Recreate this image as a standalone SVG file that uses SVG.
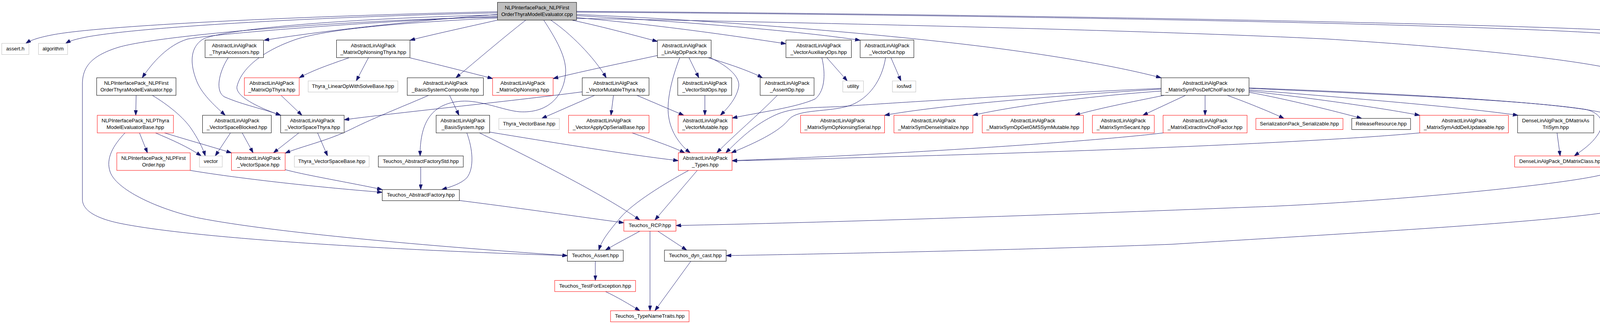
<svg xmlns="http://www.w3.org/2000/svg" width="4717" height="829" viewBox="0 0 4717 829">
<defs>
<style>
.n rect{stroke-width:1;fill:#ffffff}
.b rect{stroke:#000000}
.r rect{stroke:#ff0000}
.g rect{stroke:#bfbfbf}
.t rect{stroke:#000000;fill:#bfbfbf}
text{font-family:"Liberation Sans",Arial,Helvetica,sans-serif;font-size:13.2px;fill:#000000;text-anchor:middle}
#edges path{fill:none;stroke:#191970;stroke-width:1;marker-end:url(#ah)}
</style>
<marker id="ah" markerWidth="13" markerHeight="9" refX="13" refY="4.5" orient="auto" markerUnits="userSpaceOnUse">
<path d="M0,0 L13,4.5 L0,9 z" fill="#191970" stroke="#191970" stroke-width="1"/>
</marker>
</defs>
<rect x="0" y="0" width="4717" height="829" fill="#ffffff"/>
<g id="edges">
<path d="M1273.5,30 C 800,40 250,65 130,90 C 100,96 80,102 66,111"/>
<path d="M1273.5,33 C 800,43 350,70 220,95 C 195,100 180,104 168,111"/>
<path d="M1273.5,44 C 900,50 400,90 300,122 C 235,143 211,170 211,215 L211,510 C211,540 250,560 310,572 C 500,610 1000,640 1452.5,654"/>
<path d="M1273.5,42 C 950,55 560,85 480,100 C 430,115 390,160 364,199"/>
<path d="M1273.5,38 C 800,50 560,80 520,100 C 480,125 490,175 505,211 C 520,245 555,275 576.5,295"/>
<path d="M1273.5,37 C 1100,50 850,75 676,103"/>
<path d="M1273.5,46 C 1050,57 850,72 760,100 C 680,127 620,170 607,220 C 600,245 660,275 718.5,295"/>
<path d="M1273.5,51.5 C 1200,68 1100,90 1049.5,103"/>
<path d="M1346,51.5 C 1290,95 1220,155 1167,199"/>
<path d="M1392,51.5 C 1420,95 1455,150 1447,195 C 1440,250 1400,290 1330,286 C 1290,283 1230,255 1180,259 C 1100,265 1075,320 1075.5,399"/>
<path d="M1410,51.5 C 1460,85 1520,145 1552,199"/>
<path d="M1464,51.5 C 1550,70 1630,92 1683,106"/>
<path d="M1476,45 C 1700,65 1900,95 2012,112"/>
<path d="M1476,40 C 1750,55 2050,80 2202,103"/>
<path d="M1476,37 C 1900,55 2350,95 2600,130 C 2780,155 2900,180 2972.5,199"/>
<path d="M1476,31 C 2500,38 3700,60 4100,85 C 4200,92 4260,100 4296,111"/>
<path d="M1476,29 C 2500,36 3700,58 4100,76 C 4350,88 4480,95 4541,111"/>
<path d="M1476,47 C 2200,60 3000,80 3400,100 C 3800,125 4100,160 4180,190 C 4210,205 4218,215 4218,230 L4218,500 C 4218,515 4200,525 4150,537 C 4000,568 3400,600 3000,625 C 2600,640 2100,650 1859,654"/>
<path d="M348.5,244 L347.5,295"/>
<path d="M390,244 C 430,268 470,300 490,330 C 505,352 520,380 525.5,399"/>
<path d="M357,340 L377.5,391"/>
<path d="M398,340 C 440,358 480,375 515,399"/>
<path d="M421,340 C 480,358 540,375 592.5,391"/>
<path d="M320,340 C 290,372 270,405 282,440 C 300,490 420,540 510,558 C 700,595 1100,630 1452.5,654"/>
<path d="M590,340 L551,399"/>
<path d="M620,340 L648,391"/>
<path d="M584,148 C 560,185 550,235 575,248 C 620,268 680,280 718.5,295"/>
<path d="M719.5,244 L773,295"/>
<path d="M893,148 C 850,163 800,180 766,199"/>
<path d="M943,148 L912,207"/>
<path d="M1049.5,148 C 1120,165 1200,185 1261,201"/>
<path d="M813,340 L838.5,399"/>
<path d="M765,340 L700,391"/>
<path d="M1490.5,235 C 1300,260 1000,290 881,306.5"/>
<path d="M1097,244 C 1050,265 960,300 900,330 C 840,360 770,375 730,392"/>
<path d="M1151,244 L1175,295"/>
<path d="M1195,340 C 1210,380 1215,430 1195,455 C 1180,470 1155,478 1131,485"/>
<path d="M1227.5,340 C 1350,400 1550,500 1638,563"/>
<path d="M1253.5,338 C 1400,362 1600,395 1736.5,411"/>
<path d="M1077,427.5 L1077,485"/>
<path d="M1176,513 C 1350,535 1500,557 1597,570"/>
<path d="M730,434 C 780,448 900,468 978.5,485"/>
<path d="M487,436 C 600,455 800,478 978.5,492"/>
<path d="M1524,668.5 L1524,717.5"/>
<path d="M1550,746 C 1580,760 1610,778 1638,795"/>
<path d="M1763,436 C 1700,470 1620,520 1590,555 C 1560,590 1540,615 1533,640"/>
<path d="M1785,436 L1676.5,563"/>
<path d="M1638,591.5 C 1610,607 1580,622 1550,640"/>
<path d="M1684,591.5 L1758,640"/>
<path d="M1664,591.5 L1664,795"/>
<path d="M1768.5,668.5 L1676.5,795"/>
<path d="M1764,148 L1789,199"/>
<path d="M1814,148 C 1870,165 1920,182 1952,199"/>
<path d="M1819,148 C 1870,172 1895,200 1891,222 C 1886,250 1865,275 1844,295"/>
<path d="M1740,148 C 1720,200 1705,260 1712,300 C 1718,340 1742,372 1767,391"/>
<path d="M1683,142 C 1600,160 1500,180 1416,201"/>
<path d="M1522,244 L1387,303"/>
<path d="M1570.5,244 L1564,295"/>
<path d="M1630.5,244 L1750.5,295"/>
<path d="M1618,340 C 1670,358 1720,375 1753,391"/>
<path d="M1804.5,244 L1804.5,295"/>
<path d="M1990,244 C 1940,295 1880,345 1835,391"/>
<path d="M2104,148 C 2112,180 2115,230 2087,253 C 2040,275 1940,288 1874.5,302"/>
<path d="M2117,148 L2169,207"/>
<path d="M2281,148 L2306.5,207"/>
<path d="M2267,148 C 2258,205 2225,252 2176,270 C 2120,288 2045,278 2020,305 C 2000,330 1960,355 1872,391"/>
<path d="M2972.5,226 C 2700,238 2300,262 2161,272 C 2100,276 2040,272 1990,292 C 1930,318 1890,360 1858,391"/>
<path d="M2972.5,228 C 2700,245 2400,270 2264.5,295"/>
<path d="M2972.5,233 C 2800,245 2600,270 2490.5,295"/>
<path d="M2980,244 C 2900,260 2800,280 2752,295"/>
<path d="M3035,244 L2925.5,295"/>
<path d="M3085,244 L3085,295"/>
<path d="M2978,340 C 2800,362 2300,395 1874,411"/>
<path d="M3634.5,340 C 3400,362 2800,390 1874,411.5"/>
<path d="M3142,244 C 3200,265 3260,290 3287,303"/>
<path d="M3197.5,236 C 3300,255 3420,285 3486,303"/>
<path d="M3197.5,233 C 3350,250 3530,275 3634.5,295"/>
<path d="M3197.5,230 C 3450,250 3750,275 3886,295"/>
<path d="M3197.5,226 C 3500,240 3900,255 4060,280 C 4100,290 4110,315 4090,345 C 4075,368 4050,385 4030,399"/>
<path d="M3197.5,225 C 3600,240 4000,262 4110,290 C 4150,310 4160,345 4155,370 C 4150,410 4140,435 4110,445 C 4000,475 3500,520 3200,530 C 2700,550 2100,570 1730.5,577"/>
<path d="M3986,340 L3994,399"/>
</g>
<g id="n_cpp" class="n t"><rect x="1273.5" y="6" width="202.5" height="45.5"/><text x="1374.75" y="24">NLPInterfacePack_NLPFirst</text><text x="1374.75" y="41">OrderThyraModelEvaluator.cpp</text></g>
<g id="n_assert" class="n g"><rect x="4.5" y="111" width="69.5" height="28.5"/><text x="39.25" y="129">assert.h</text></g>
<g id="n_algorithm" class="n g"><rect x="98.5" y="111" width="74.5" height="28.5"/><text x="135.75" y="129">algorithm</text></g>
<g id="n_thyraacc" class="n b"><rect x="525" y="102.5" width="149.5" height="45"/><text x="599.75" y="120.5">AbstractLinAlgPack</text><text x="599.75" y="137.5">_ThyraAccessors.hpp</text></g>
<g id="n_mopnsthyra" class="n b"><rect x="861.5" y="102.5" width="188" height="45"/><text x="955.5" y="120.5">AbstractLinAlgPack</text><text x="955.5" y="137.5">_MatrixOpNonsingThyra.hpp</text></g>
<g id="n_linalgop" class="n b"><rect x="1683" y="102.5" width="137.5" height="45"/><text x="1751.75" y="120.5">AbstractLinAlgPack</text><text x="1751.75" y="137.5">_LinAlgOpPack.hpp</text></g>
<g id="n_vecaux" class="n b"><rect x="2012" y="102.5" width="167.5" height="45"/><text x="2095.75" y="120.5">AbstractLinAlgPack</text><text x="2095.75" y="137.5">_VectorAuxiliaryOps.hpp</text></g>
<g id="n_vecout" class="n b"><rect x="2202" y="102.5" width="137.5" height="45"/><text x="2270.75" y="120.5">AbstractLinAlgPack</text><text x="2270.75" y="137.5">_VectorOut.hpp</text></g>
<g id="n_mehelp" class="n g"><rect x="4255" y="111" width="223" height="28.5"/><text x="4366.5" y="129">Thyra_ModelEvaluatorHelpers.hpp</text></g>
<g id="n_detached" class="n g"><rect x="4501" y="111" width="212" height="28.5"/><text x="4607" y="129">Thyra_DetachedVectorView.hpp</text></g>
<g id="n_nlpfotme" class="n b"><rect x="247.5" y="199" width="203" height="45"/><text x="349" y="217">NLPInterfacePack_NLPFirst</text><text x="349" y="234">OrderThyraModelEvaluator.hpp</text></g>
<g id="n_mopthyra" class="n r"><rect x="625.5" y="199" width="140.5" height="45"/><text x="695.75" y="217">AbstractLinAlgPack</text><text x="695.75" y="234">_MatrixOpThyra.hpp</text></g>
<g id="n_lows" class="n g"><rect x="789" y="207" width="229.5" height="28.5"/><text x="903.75" y="225">Thyra_LinearOpWithSolveBase.hpp</text></g>
<g id="n_bscomp" class="n b"><rect x="1042.5" y="199" width="195" height="45"/><text x="1140" y="217">AbstractLinAlgPack</text><text x="1140" y="234">_BasisSystemComposite.hpp</text></g>
<g id="n_mopns" class="n r"><rect x="1261" y="199" width="155" height="45"/><text x="1338.5" y="217">AbstractLinAlgPack</text><text x="1338.5" y="234">_MatrixOpNonsing.hpp</text></g>
<g id="n_vmthyra" class="n b"><rect x="1490.5" y="199" width="171" height="45"/><text x="1576" y="217">AbstractLinAlgPack</text><text x="1576" y="234">_VectorMutableThyra.hpp</text></g>
<g id="n_vstdops" class="n b"><rect x="1735" y="199" width="138" height="45"/><text x="1804" y="217">AbstractLinAlgPack</text><text x="1804" y="234">_VectorStdOps.hpp</text></g>
<g id="n_assertop" class="n b"><rect x="1946" y="199" width="138" height="45"/><text x="2015" y="217">AbstractLinAlgPack</text><text x="2015" y="234">_AssertOp.hpp</text></g>
<g id="n_utility" class="n g"><rect x="2157.5" y="207" width="53" height="28.5"/><text x="2184" y="225">utility</text></g>
<g id="n_iosfwd" class="n g"><rect x="2284.5" y="207" width="60" height="28.5"/><text x="2314.5" y="225">iosfwd</text></g>
<g id="n_mspdcf" class="n b"><rect x="2972.5" y="199" width="225" height="45"/><text x="3085" y="217">AbstractLinAlgPack</text><text x="3085" y="234">_MatrixSymPosDefCholFactor.hpp</text></g>
<g id="n_nlpthyrameb" class="n r"><rect x="249" y="295" width="195" height="45"/><text x="346.5" y="313">NLPInterfacePack_NLPThyra</text><text x="346.5" y="330">ModelEvaluatorBase.hpp</text></g>
<g id="n_vsblocked" class="n b"><rect x="518.5" y="295" width="176" height="45"/><text x="606.5" y="313">AbstractLinAlgPack</text><text x="606.5" y="330">_VectorSpaceBlocked.hpp</text></g>
<g id="n_vsthyra" class="n b"><rect x="718.5" y="295" width="162.5" height="45"/><text x="799.75" y="313">AbstractLinAlgPack</text><text x="799.75" y="330">_VectorSpaceThyra.hpp</text></g>
<g id="n_bs" class="n b"><rect x="1116.5" y="295" width="137" height="45"/><text x="1185" y="313">AbstractLinAlgPack</text><text x="1185" y="330">_BasisSystem.hpp</text></g>
<g id="n_vecbase" class="n g"><rect x="1277" y="303" width="155" height="28.5"/><text x="1354.5" y="321">Thyra_VectorBase.hpp</text></g>
<g id="n_vaopsb" class="n r"><rect x="1455.5" y="295" width="206" height="45"/><text x="1558.5" y="313">AbstractLinAlgPack</text><text x="1558.5" y="330">_VectorApplyOpSerialBase.hpp</text></g>
<g id="n_vmut" class="n r"><rect x="1736" y="295" width="138.5" height="45"/><text x="1805.25" y="313">AbstractLinAlgPack</text><text x="1805.25" y="330">_VectorMutable.hpp</text></g>
<g id="n_msonss" class="n r"><rect x="2049.5" y="295" width="215" height="45"/><text x="2157" y="313">AbstractLinAlgPack</text><text x="2157" y="330">_MatrixSymOpNonsingSerial.hpp</text></g>
<g id="n_msdi" class="n r"><rect x="2288.5" y="295" width="202" height="45"/><text x="2389.5" y="313">AbstractLinAlgPack</text><text x="2389.5" y="330">_MatrixSymDenseInitialize.hpp</text></g>
<g id="n_msgms" class="n r"><rect x="2514.5" y="295" width="259" height="45"/><text x="2644" y="313">AbstractLinAlgPack</text><text x="2644" y="330">_MatrixSymOpGetGMSSymMutable.hpp</text></g>
<g id="n_mssec" class="n r"><rect x="2796.5" y="295" width="158.5" height="45"/><text x="2875.75" y="313">AbstractLinAlgPack</text><text x="2875.75" y="330">_MatrixSymSecant.hpp</text></g>
<g id="n_meicf" class="n r"><rect x="2977.5" y="295" width="215" height="45"/><text x="3085" y="313">AbstractLinAlgPack</text><text x="3085" y="330">_MatrixExtractInvCholFactor.hpp</text></g>
<g id="n_serial" class="n r"><rect x="3215" y="303" width="223" height="28.5"/><text x="3326.5" y="321">SerializationPack_Serializable.hpp</text></g>
<g id="n_release" class="n b"><rect x="3460.5" y="303" width="150.5" height="28.5"/><text x="3535.75" y="321">ReleaseResource.hpp</text></g>
<g id="n_msadu" class="n r"><rect x="3634.5" y="295" width="227" height="45"/><text x="3748" y="313">AbstractLinAlgPack</text><text x="3748" y="330">_MatrixSymAddDelUpdateable.hpp</text></g>
<g id="n_dmtrisym" class="n b"><rect x="3885" y="295" width="195" height="45"/><text x="3982.5" y="313">DenseLinAlgPack_DMatrixAs</text><text x="3982.5" y="330">TriSym.hpp</text></g>
<g id="n_nlpfo" class="n r"><rect x="299" y="391" width="188" height="45"/><text x="393" y="409">NLPInterfacePack_NLPFirst</text><text x="393" y="426">Order.hpp</text></g>
<g id="n_vector" class="n g"><rect x="510.5" y="399" width="58.5" height="28.5"/><text x="539.75" y="417">vector</text></g>
<g id="n_vs" class="n r"><rect x="592.5" y="391" width="137.5" height="45"/><text x="661.25" y="409">AbstractLinAlgPack</text><text x="661.25" y="426">_VectorSpace.hpp</text></g>
<g id="n_vsbase" class="n g"><rect x="753.5" y="399" width="191.5" height="28.5"/><text x="849.25" y="417">Thyra_VectorSpaceBase.hpp</text></g>
<g id="n_afstd" class="n b"><rect x="968.5" y="399" width="217.5" height="28.5"/><text x="1077.25" y="417">Teuchos_AbstractFactoryStd.hpp</text></g>
<g id="n_types" class="n r"><rect x="1736.5" y="391" width="137.5" height="45"/><text x="1805.25" y="409">AbstractLinAlgPack</text><text x="1805.25" y="426">_Types.hpp</text></g>
<g id="n_dmclass" class="n r"><rect x="3877.5" y="399" width="239" height="28.5"/><text x="3997" y="417">DenseLinAlgPack_DMatrixClass.hpp</text></g>
<g id="n_af" class="n b"><rect x="978.5" y="485" width="197.5" height="28.5"/><text x="1077.25" y="503">Teuchos_AbstractFactory.hpp</text></g>
<g id="n_rcp" class="n r"><rect x="1597" y="563" width="133.5" height="28.5"/><text x="1663.75" y="581">Teuchos_RCP.hpp</text></g>
<g id="n_tassert" class="n b"><rect x="1452.5" y="640" width="143" height="28.5"/><text x="1524" y="658">Teuchos_Assert.hpp</text></g>
<g id="n_dyncast" class="n b"><rect x="1701" y="640" width="158" height="28.5"/><text x="1780" y="658">Teuchos_dyn_cast.hpp</text></g>
<g id="n_tfe" class="n r"><rect x="1420" y="717.5" width="207" height="28.5"/><text x="1523.5" y="735.5">Teuchos_TestForException.hpp</text></g>
<g id="n_tnt" class="n r"><rect x="1563" y="795" width="201" height="28.5"/><text x="1663.5" y="813">Teuchos_TypeNameTraits.hpp</text></g>
</svg>
